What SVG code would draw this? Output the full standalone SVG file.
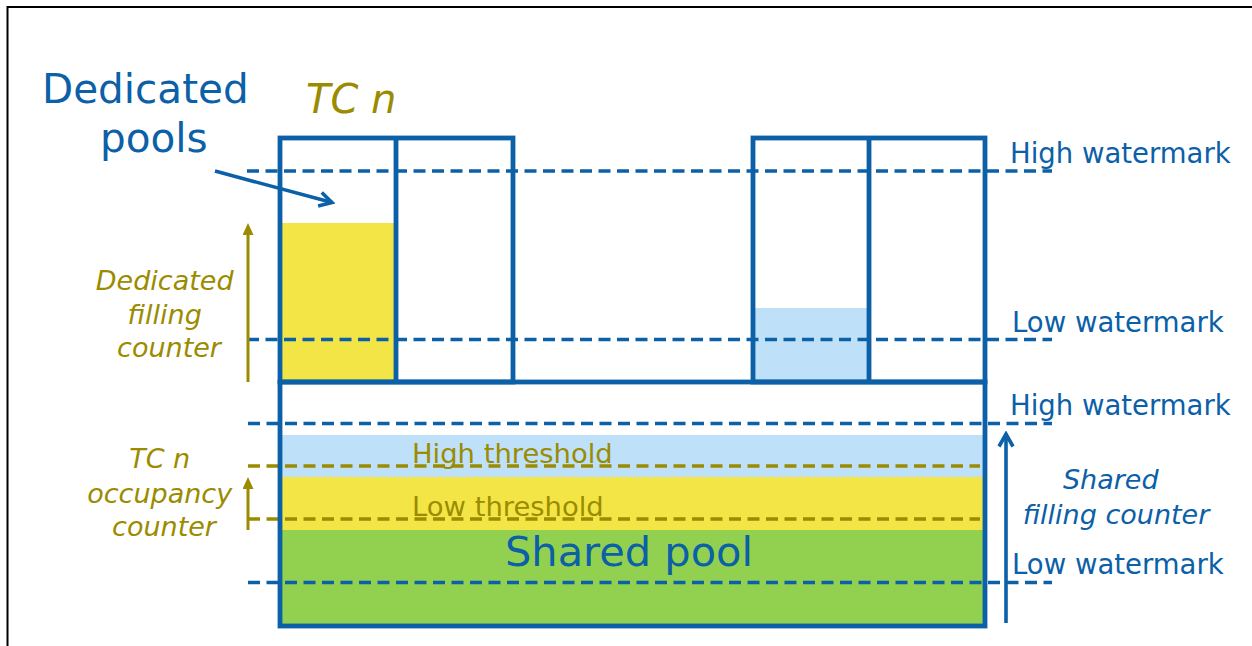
<svg xmlns="http://www.w3.org/2000/svg" width="1252" height="646" viewBox="0 0 1252 646">
<style>
  .box { fill: none; stroke: #0B60A8; stroke-width: 4.8; }
  .wm { stroke: #0B60A8; stroke-width: 3.4; stroke-dasharray: 12 6.5; fill: none; }
  .th { stroke: #9B8B00; stroke-width: 3.4; stroke-dasharray: 12 6.5; fill: none; }
  .t { font-family: "DejaVu Sans", Verdana, sans-serif; }
  .blue { fill: #0B60A8; }
  .gold { fill: #9B8B00; }
  .it { font-style: italic; }
  .garrow { stroke: #9B8B00; stroke-width: 3; fill: none; marker-end: url(#gtri); }
  .barrow { stroke: #0B60A8; stroke-width: 3.6; fill: none; marker-end: url(#chev); }
</style>
<defs>
  <marker id="gtri" viewBox="0 0 12 11" refX="0" refY="5.5" markerWidth="12" markerHeight="11" markerUnits="userSpaceOnUse" orient="auto">
    <path d="M0,0 L12,5.5 L0,11 Z" fill="#9B8B00"/>
  </marker>
  <marker id="chev" viewBox="0 0 18 18" refX="15" refY="9" markerWidth="18" markerHeight="18" markerUnits="userSpaceOnUse" orient="auto">
    <path d="M2.5,2 L15,9 L2.5,16" fill="none" stroke="#0B60A8" stroke-width="3.6" stroke-linejoin="miter"/>
  </marker>
</defs>

<rect x="0" y="0" width="1252" height="646" fill="#FFFFFF"/>
<rect id="frame" x="7.5" y="7" width="1260" height="660" fill="none" stroke="#000000" stroke-width="2"/>

<g id="dedicated-pool-tc-n">
  <rect x="282" y="223" width="113" height="159" fill="#F4E546"/>
  <rect class="box" x="280" y="138" width="233" height="244"/>
  <line class="box" x1="396" y1="138" x2="396" y2="382"/>
</g>

<g id="dedicated-pool-other">
  <rect x="755" y="308" width="113" height="74" fill="#BEE1F9"/>
  <rect class="box" x="753" y="138" width="232" height="244"/>
  <line class="box" x1="869" y1="138" x2="869" y2="382"/>
</g>

<g id="shared-pool">
  <rect x="282" y="435" width="701" height="42" fill="#BEE1F9"/>
  <rect x="282" y="477" width="701" height="53" fill="#F4E546"/>
  <rect x="282" y="530" width="701" height="94" fill="#92D14F"/>
  <text class="t blue" x="505" y="566" font-size="41.5">Shared pool</text>
</g>

<g id="watermarks">
  <line class="wm" x1="247" y1="171" x2="1052" y2="171"/>
  <line class="wm" x1="247" y1="339.5" x2="1052" y2="339.5"/>
  <line class="wm" x1="248" y1="423.5" x2="1052" y2="423.5"/>
  <line class="wm" x1="248" y1="582.5" x2="1052" y2="582.5"/>
  <line class="th" x1="248" y1="466" x2="980" y2="466"/>
  <line class="th" x1="248" y1="519" x2="980" y2="519"/>
</g>

<g id="shared-pool-box">
  <rect class="box" x="280" y="382" width="705" height="244"/>
</g>

<g id="labels">
  <text class="t blue" x="42" y="103" font-size="40.5">Dedicated</text>
  <text class="t blue" x="100" y="152" font-size="40.5">pools</text>
  <text class="t gold it" x="306" y="113" font-size="40">TC n</text>
  <text class="t gold it" font-size="27" text-anchor="middle">
    <tspan x="169" y="290">Dedicated</tspan>
    <tspan x="169" y="324">filling</tspan>
    <tspan x="169" y="357">counter</tspan>
  </text>
  <text class="t gold it" font-size="27" text-anchor="middle">
    <tspan x="164" y="468">TC n</tspan>
    <tspan x="164" y="503">occupancy</tspan>
    <tspan x="164" y="536">counter</tspan>
  </text>
  <text class="t blue" x="1010" y="163" font-size="27.5">High watermark</text>
  <text class="t blue" x="1012" y="332" font-size="27.5">Low watermark</text>
  <text class="t blue" x="1010" y="415" font-size="27.5">High watermark</text>
  <text class="t blue" x="1012" y="574" font-size="27.5">Low watermark</text>
  <text class="t gold" x="412" y="463" font-size="27.4">High threshold</text>
  <text class="t gold" x="412" y="516" font-size="27.4">Low threshold</text>
  <text class="t blue it" font-size="27" text-anchor="middle">
    <tspan x="1115" y="489">Shared</tspan>
    <tspan x="1116" y="524">filling counter</tspan>
  </text>
</g>

<g id="connectors">
  <line class="barrow" x1="215" y1="171" x2="332" y2="202.5"/>
  <line class="garrow" x1="248" y1="382" x2="248" y2="235"/>
  <line class="garrow" x1="248" y1="530" x2="248" y2="489"/>
  <line class="barrow" x1="1006" y1="623" x2="1006" y2="434"/>
</g>
</svg>
